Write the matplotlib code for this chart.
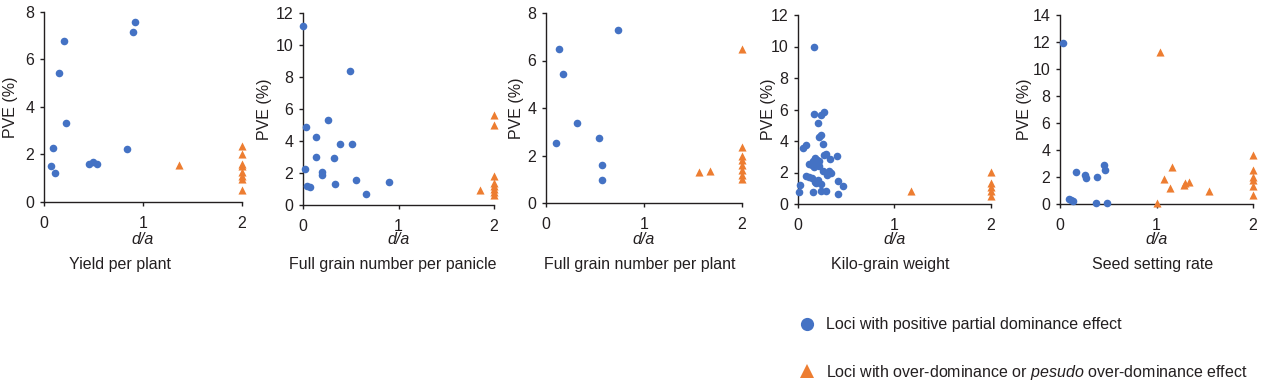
import matplotlib
matplotlib.use("Agg")
import matplotlib.pyplot as plt
from matplotlib.lines import Line2D

plt.rcParams['font.family'] = ['Liberation Sans', 'DejaVu Sans']
plt.rcParams['mathtext.fontset'] = 'custom'
plt.rcParams['mathtext.rm'] = 'Liberation Sans'
plt.rcParams['mathtext.it'] = 'Liberation Sans:italic'

BLUE = '#4472C4'
ORANGE = '#ED7D31'
TXT = '#231F20'

titles = ["Yield per plant", "Full grain number per panicle", "Full grain number per plant",
          "Kilo-grain weight", "Seed setting rate"]
ymax = [8, 12, 8, 12, 14]
ystep = [2, 2, 2, 2, 2]

# Panel 1: Yield per plant
p1_pos_x = [0.074, 0.091, 0.111, 0.152, 0.206, 0.226, 0.456, 0.497, 0.537, 0.841, 0.902, 0.919]
p1_pos_y = [1.51, 2.27, 1.23, 5.44, 6.76, 3.31, 1.59, 1.68, 1.59, 2.25, 7.16, 7.57]
p1_ovr_x = [1.365, 2, 2, 2, 2, 2, 2, 2, 2]
p1_ovr_y = [1.54, 2.35, 2.0, 1.6, 1.5, 1.25, 1.1, 0.95, 0.5]

# Panel 2: Full grain number per panicle
p2_pos_x = [0.0, 0.494, 0.263, 0.028, 0.025, 0.046, 0.074, 0.14, 0.133, 0.196, 0.2,
            0.385, 0.508, 0.326, 0.34, 0.553, 0.658, 0.897]
p2_pos_y = [11.17, 8.38, 5.3, 4.89, 2.25, 1.19, 1.12, 4.24, 2.99, 2.06, 1.87,
            3.80, 3.80, 2.91, 1.31, 1.56, 0.69, 1.41]
p2_ovr_x = [1.85, 2, 2, 2, 2, 2, 2, 2, 2]
p2_ovr_y = [0.94, 5.6, 5.0, 1.8, 1.4, 1.2, 1.0, 0.8, 0.65]

# Panel 3: Full grain number per plant
p3_pos_x = [0.105, 0.136, 0.17, 0.312, 0.539, 0.573, 0.573, 0.732]
p3_pos_y = [2.54, 6.50, 5.42, 3.37, 2.72, 1.60, 0.95, 7.27]
p3_ovr_x = [1.559, 1.678, 2, 2, 2, 2, 2, 2, 2, 2]
p3_ovr_y = [1.31, 1.35, 6.48, 2.35, 2.0, 1.8, 1.6, 1.4, 1.2, 1.0]

# Panel 4: Kilo-grain weight
p4_pos_x = [0.166, 0.166, 0.27, 0.235, 0.208, 0.215, 0.235, 0.26, 0.052, 0.087,
            0.40, 0.295, 0.27, 0.18, 0.20, 0.16, 0.22, 0.33, 0.11, 0.14, 0.165,
            0.20, 0.215, 0.26, 0.32, 0.345, 0.30, 0.08, 0.11, 0.14, 0.18, 0.21,
            0.467, 0.415, 0.018, 0.007, 0.155, 0.243, 0.295, 0.41, 0.235, 0.19]
p4_pos_y = [9.99, 5.73, 5.83, 5.66, 5.13, 4.28, 4.35, 3.80, 3.55, 3.76,
            3.02, 3.17, 3.08, 2.95, 2.8, 2.75, 2.7, 2.87, 2.55, 2.45, 2.35,
            2.5, 2.4, 2.11, 2.1, 1.95, 1.85, 1.8, 1.72, 1.65, 1.4, 1.55,
            1.12, 1.43, 1.22, 0.76, 0.76, 0.80, 0.84, 0.63, 1.27, 1.33]
p4_ovr_x = [1.176, 2, 2, 2, 2, 2]
p4_ovr_y = [0.80, 2.05, 1.35, 1.1, 0.8, 0.5]

# Panel 5: Seed setting rate
p5_pos_x = [0.035, 0.097, 0.114, 0.131, 0.163, 0.256, 0.27, 0.374, 0.388, 0.46, 0.464, 0.491]
p5_pos_y = [11.95, 0.35, 0.30, 0.25, 2.37, 2.15, 1.90, 0.05, 2.02, 2.91, 2.49, 0.10]
p5_ovr_x = [1.0, 1.04, 1.073, 1.142, 1.159, 1.28, 1.294, 1.339, 1.547, 2, 2, 2, 2, 2, 2]
p5_ovr_y = [0.05, 11.23, 1.83, 1.16, 2.72, 1.41, 1.58, 1.65, 0.96, 3.6, 2.5, 2.0, 1.8, 1.3, 0.7]

pos_x = [p1_pos_x, p2_pos_x, p3_pos_x, p4_pos_x, p5_pos_x]
pos_y = [p1_pos_y, p2_pos_y, p3_pos_y, p4_pos_y, p5_pos_y]
ovr_x = [p1_ovr_x, p2_ovr_x, p3_ovr_x, p4_ovr_x, p5_ovr_x]
ovr_y = [p1_ovr_y, p2_ovr_y, p3_ovr_y, p4_ovr_y, p5_ovr_y]

legend_labels = ["Loci with positive partial dominance effect",
                 "Loci with over-dominance or $\\it{pesudo}$ over-dominance effect"]

W, H = 1267, 382
fig = plt.figure(figsize=(W / 100, H / 100), dpi=100)

# pixel rects: left, right, top, bottom
rects = [(44, 242, 12, 202), (303, 494, 13, 205), (546, 742, 13, 203),
         (798, 991, 15, 204), (1060, 1253, 15, 204)]
ylab_x = [10, 265, 517, 768, 1025]
title_x = [120, 393, 640, 890, 1153]

for i in range(5):
    l, r, t, b = rects[i]
    ax = fig.add_axes([l / W, 1 - b / H, (r - l) / W, (b - t) / H])
    ax.scatter(pos_x[i], pos_y[i], s=30, marker='o', color=BLUE, linewidths=0, clip_on=False, zorder=3)
    ax.scatter(ovr_x[i], ovr_y[i], s=34, marker='^', color=ORANGE, linewidths=0, clip_on=False, zorder=3)
    ax.set_xlim(0, 2)
    ax.set_ylim(0, ymax[i])
    ax.set_xticks([0, 1, 2])
    ax.set_yticks(list(range(0, ymax[i] + 1, ystep[i])))
    for s in ['top', 'right']:
        ax.spines[s].set_visible(False)
    for s in ['left', 'bottom']:
        ax.spines[s].set_linewidth(1.0)
        ax.spines[s].set_color(TXT)
    ax.tick_params(axis='both', direction='out', length=3, width=1.0, color=TXT,
                   labelsize=11.5, labelcolor=TXT)
    ax.tick_params(axis='x', pad=7)
    ax.tick_params(axis='y', pad=4)
    cx = (l + r) / 2 / W
    fig.text(cx, 1 - 240 / H, "d/a", style='italic', fontsize=11.5, color=TXT, ha='center', va='center')
    fig.text(title_x[i] / W, 1 - 265 / H, titles[i], fontsize=11.5, color=TXT, ha='center', va='center')
    fig.text(ylab_x[i] / W, 1 - ((t + b) / 2) / H, "PVE (%)", rotation=90, fontsize=11.5,
             color=TXT, ha='center', va='center')

h1 = Line2D([], [], marker='o', color=BLUE, linestyle='None', markersize=9.5, markeredgewidth=0)
h2 = Line2D([], [], marker='^', color=ORANGE, linestyle='None', markersize=10.5, markeredgewidth=0)
fig.legend([h1, h2], legend_labels, loc='center left', bbox_to_anchor=(799 / W, 1 - 349.5 / H),
           frameon=False, fontsize=11.5, labelspacing=1.9, handletextpad=0.7,
           handlelength=1.0, labelcolor=TXT, borderpad=0, borderaxespad=0)

fig.savefig("out.png", dpi=100)
